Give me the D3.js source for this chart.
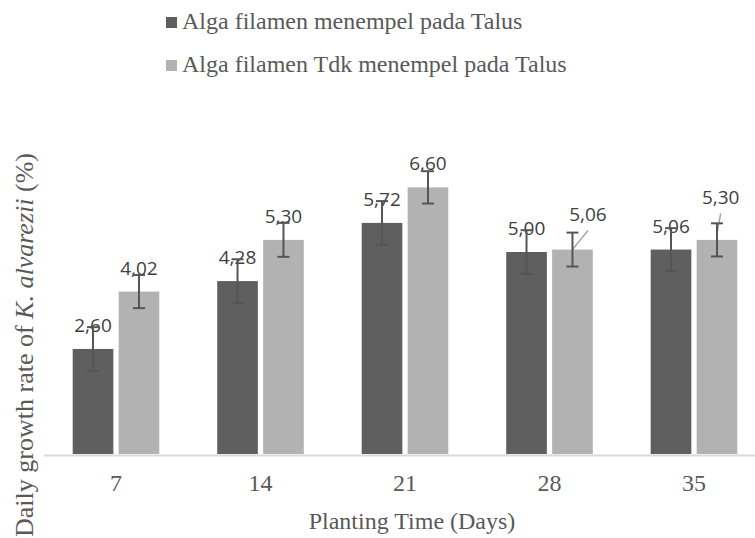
<!DOCTYPE html>
<html>
<head>
<meta charset="utf-8">
<script src="https://cdn.jsdelivr.net/npm/d3@7/dist/d3.min.js"></script>
<style>
  html, body { margin: 0; padding: 0; background: #fff; }
  svg { display: block; }
  .serif { font-family: "Liberation Serif", "Times New Roman", serif; }
  .sans { font-family: "Open Sans", "Noto Sans", sans-serif; }
</style>
</head>
<body>
<svg id="chart" width="755" height="538"></svg>
<script>
// ---- data ----
const categories = ["7", "14", "21", "28", "35"];
const seriesNames = ["Alga filamen menempel pada Talus", "Alga filamen Tdk menempel pada Talus"];
const valuesAttached = [2.60, 4.28, 5.72, 5.00, 5.06];
const valuesNotAttached = [4.02, 5.30, 6.60, 5.06, 5.30];
const errAttached = [0.54, 0.54, 0.54, 0.54, 0.53];
const errNotAttached = [0.41, 0.42, 0.40, 0.42, 0.41];
const xTitle = "Planting Time (Days)";

// ---- layout / style ----
const plotLeft = 43.75, plotRight = 766.25, baseY = 454, topY = 50;
const colors = ["#5f5f5f", "#b2b2b2"];
const textColor = "#595959";
const labelColor = "#404040";
// manual label moves (only for labels that were repositioned), in px
const labelMoves = {"1-3": {dx: 15.5, dy: -11.5, lead: 0}, "1-4": {dx: 3.7, dy: -19, lead: 6}};

const svg = d3.select("#chart");

const x0 = d3.scaleBand().domain(categories).range([plotLeft, plotRight]).padding(0);
const groupW = 86.6;
const x1 = d3.scaleBand().domain(d3.range(seriesNames.length))
  .range([(x0.bandwidth() - groupW) / 2, (x0.bandwidth() + groupW) / 2])
  .paddingInner(10 / 86.6);
const y = d3.scaleLinear().domain([0, 10]).range([baseY, topY]);

const valueSets = [valuesAttached, valuesNotAttached];
const errSets = [errAttached, errNotAttached];
const rows = [];
valueSets.forEach((vals, s) => {
  vals.forEach((v, i) => rows.push({s, i, cat: categories[i], v, e: errSets[s][i]}));
});
const fmt = v => d3.format(".2f")(v).replace(".", ",");
const cxOf = d => x0(d.cat) + x1(d.s) + x1.bandwidth() / 2;

// bars
svg.append("g").selectAll("rect").data(rows).join("rect")
  .attr("x", d => x0(d.cat) + x1(d.s))
  .attr("y", d => y(d.v))
  .attr("width", x1.bandwidth())
  .attr("height", d => baseY - y(d.v))
  .attr("fill", d => colors[d.s]);

// category axis (no ticks)
const xAxis = d3.axisBottom(x0).tickSize(0).tickPadding(0);
const gx = svg.append("g").attr("transform", `translate(0,${baseY + 1})`).call(xAxis);
gx.attr("font-family", null).attr("font-size", null);
gx.select(".domain").attr("stroke", "#d9d9d9").attr("stroke-width", 2);
gx.selectAll(".tick text")
  .attr("class", "serif")
  .style("font-family", '"Liberation Serif", "Times New Roman", serif')
  .style("font-size", "24px")
  .attr("fill", textColor)
  .attr("dy", 0)
  .attr("y", 36);

// leader lines for moved labels
rows.forEach(d => {
  const m = labelMoves[d.s + "-" + d.i];
  if (!m) return;
  const cx = cxOf(d);
  svg.append("line")
    .attr("x1", cx).attr("y1", y(d.v) - m.lead)
    .attr("x2", cx + m.dx).attr("y2", y(d.v) - 17 + m.dy + 9.5)
    .attr("stroke", "#a6a6a6").attr("stroke-width", 1.5);
});

// data labels
svg.append("g").selectAll("text").data(rows).join("text")
  .attr("x", d => { const m = labelMoves[d.s + "-" + d.i]; return cxOf(d) + (m ? m.dx : 0); })
  .attr("y", d => { const m = labelMoves[d.s + "-" + d.i]; return y(d.v) - 17 + (m ? m.dy : 0); })
  .attr("text-anchor", "middle")
  .style("font-family", '"Open Sans", "Noto Sans", sans-serif')
  .style("font-size", "19px")
  .attr("fill", labelColor)
  .text(d => fmt(d.v));

// error bars
const eg = svg.append("g").attr("stroke", "#555555").attr("stroke-width", 2).attr("fill", "none");
rows.forEach(d => {
  const cx = cxOf(d);
  const yt = y(d.v + d.e), yb = y(d.v - d.e);
  eg.append("line").attr("x1", cx).attr("x2", cx).attr("y1", yt).attr("y2", yb);
  eg.append("line").attr("x1", cx - 6).attr("x2", cx + 6).attr("y1", yt).attr("y2", yt);
  eg.append("line").attr("x1", cx - 6).attr("x2", cx + 6).attr("y1", yb).attr("y2", yb);
});

// legend
const lg = svg.append("g");
seriesNames.forEach((name, s) => {
  const by = 29 + s * 43;
  lg.append("rect").attr("x", 166).attr("y", by - 12).attr("width", 11).attr("height", 11).attr("fill", colors[s]);
  lg.append("text").attr("x", 182).attr("y", by)
    .style("font-family", '"Liberation Serif", "Times New Roman", serif')
    .style("font-size", "24px").attr("fill", textColor).text(name);
});

// x title
svg.append("text").attr("x", 412).attr("y", 529)
  .attr("text-anchor", "middle")
  .style("font-family", '"Liberation Serif", "Times New Roman", serif')
  .style("font-size", "24px").attr("fill", textColor).text(xTitle);

// y title (rotated, with italic species name)
const yt = svg.append("text")
  .attr("transform", "translate(33,345) rotate(-90)")
  .attr("text-anchor", "middle")
  .style("font-family", '"Liberation Serif", "Times New Roman", serif')
  .style("font-size", "26px").attr("fill", textColor);
yt.append("tspan").text("Daily growth rate of ");
yt.append("tspan").style("font-style", "italic").text("K. alvarezii");
yt.append("tspan").text(" (%)");
</script>
</body>
</html>
